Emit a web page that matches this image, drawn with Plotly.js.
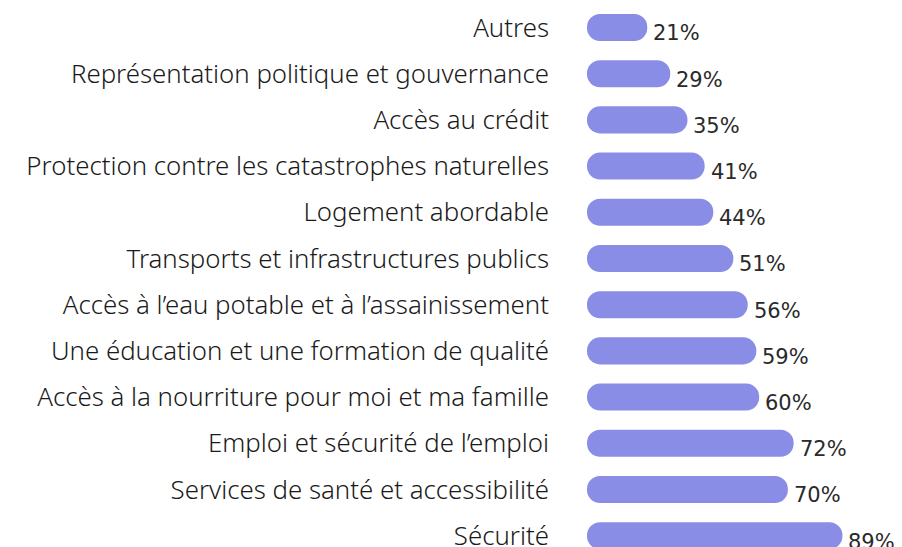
<!DOCTYPE html>
<html>
<head>
<meta charset="utf-8">
<script src="https://cdn.plot.ly/plotly-3.0.1.min.js"></script>
<style>html,body{margin:0;padding:0;background:#fff;}#chart{width:902px;height:547px;}</style>
</head>
<body>
<div id="chart"></div>
<script>
const categories = [
  "Autres",
  "Représentation politique et gouvernance",
  "Accès au crédit",
  "Protection contre les catastrophes naturelles",
  "Logement abordable",
  "Transports et infrastructures publics",
  "Accès à l’eau potable et à l’assainissement",
  "Une éducation et une formation de qualité",
  "Accès à la nourriture pour moi et ma famille",
  "Emploi et sécurité de l’emploi",
  "Services de santé et accessibilité",
  "Sécurité"
];
const values = [21, 29, 35, 41, 44, 51, 56, 59, 60, 72, 70, 89];
const valueLabels = values.map(v => v + "%");

const barColor = "#8a8de6";
const barWidth = 0.585;

const trace = {
  type: "bar", orientation: "h",
  y: categories,
  base: values.map(() => 0),
  x: values,
  width: barWidth,
  marker: {color: barColor, cornerradius: 14, line: {width: 0}},
  hoverinfo: "skip"
};

const annotations = values.map((v, i) => ({
  x: v, y: categories[i], xref: "x", yref: "y",
  text: valueLabels[i], showarrow: false,
  xanchor: "left", yanchor: "middle", xshift: 4, yshift: -6,
  font: {family: "'DejaVu Sans', sans-serif", size: 21, color: "#2a2a2a"}
}));

const layout = {
  width: 902, height: 547,
  margin: {l: 587, r: 0, t: 0, b: 0, pad: 0},
  paper_bgcolor: "#ffffff", plot_bgcolor: "#ffffff",
  showlegend: false,
  xaxis: {range: [0, 109.76], visible: false, fixedrange: true},
  yaxis: {
    type: "category",
    categoryorder: "array", categoryarray: categories,
    range: [11.245, -0.595],
    showgrid: false, zeroline: false, showline: false, ticks: "",
    ticklabelstandoff: 37,
    tickfont: {family: "'Noto Sans', sans-serif", size: 25.8, color: "#1a1a1a", weight: 300}
  },
  annotations: annotations
};

Plotly.newPlot("chart", [trace], layout, {displayModeBar: false, staticPlot: true});
</script>
</body>
</html>
